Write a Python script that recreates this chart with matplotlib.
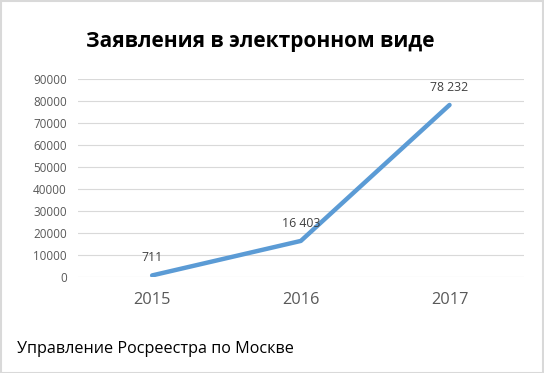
import matplotlib
matplotlib.use("Agg")
import matplotlib.pyplot as plt
from matplotlib.patches import Rectangle

years = ["2015", "2016", "2017"]
values = [711, 16403, 78232]
labels = ["711", "16 403", "78 232"]
yticks = list(range(0, 90001, 10000))

plt.rcParams['font.family'] = ['Open Sans', 'DejaVu Sans']

fig = plt.figure(figsize=(5.44, 3.73), dpi=100)
ax = fig.add_axes([0.143, 0.2574, 0.82, 0.5306])

x = [i + 0.5 for i in range(len(years))]
ax.plot(x, values, color="#5B9BD5", linewidth=3.2, solid_capstyle="round", solid_joinstyle="round", zorder=3)
for xi, v, lab in zip(x, values, labels):
    ax.annotate(lab, (xi, v), xytext=(0, 8), textcoords="offset points",
                ha="center", va="bottom", fontsize=8.8, color="#404040")

ax.set_xlim(0, 3)
ax.set_ylim(0, 90000)
ax.set_yticks(yticks)
ax.set_yticklabels([str(t) for t in yticks], fontsize=8.4, color="#595959")
ax.set_xticks(x)
ax.set_xticklabels(years, fontsize=11.8, color="#595959")
ax.tick_params(axis="both", length=0)
ax.tick_params(axis="y", pad=8)
ax.tick_params(axis="x", pad=11)
ax.grid(axis="y", color="#D9D9D9", linewidth=0.8)
ax.set_axisbelow(True)
for s in ax.spines.values():
    s.set_visible(False)

fig.text(0.478, 0.888, "Заявления в электронном виде", ha="center", va="center",
         fontsize=15, fontweight="bold", color="black")
fig.text(0.031, 0.064, "Управление Росреестра по Москве", ha="left", va="center",
         fontsize=11.6, color="black")

fig.patches.append(Rectangle((0.001, 0.001), 0.997, 0.997, transform=fig.transFigure,
                             fill=False, edgecolor="#D9D9D9", linewidth=1.5))

fig.savefig("out.png", dpi=100)
